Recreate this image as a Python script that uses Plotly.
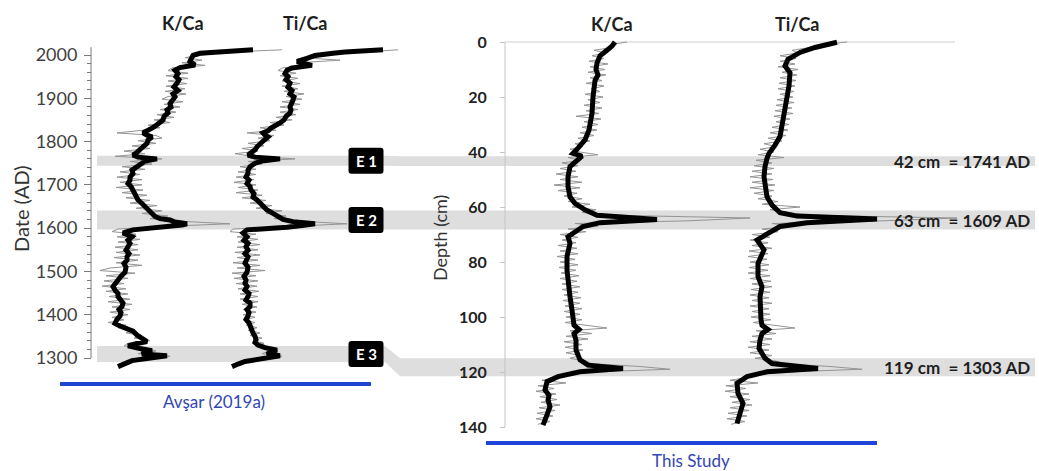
import plotly.graph_objects as go

# ---------------- Avşar (2019a): XRF ratios against calendar age ----------------
avsar_raw_years = list(range(2012, 1280, -6))
avsar_kca_raw = [
    1.92, 1.30, 1.12, 0.95, 1.12, 0.92, 1.15, 0.82, 0.78, 0.98,
    0.76, 0.98, 0.78, 0.97, 0.76, 0.95, 0.75, 0.96, 0.78, 0.72,
    0.93, 0.74, 0.90, 0.70, 0.86, 0.67, 0.84, 0.64, 0.80, 0.58,
    0.70, 0.52, 0.27, 0.66, 0.72, 0.48, 0.66, 0.42, 0.60, 0.34,
    0.55, 0.25, 0.72, 0.40, 0.62, 0.32, 0.55, 0.30, 0.50, 0.27,
    0.52, 0.30, 0.52, 0.26, 0.53, 0.32, 0.57, 0.36, 0.60, 0.40,
    0.67, 0.46, 0.72, 0.52, 0.78, 0.60, 0.90, 1.40, 0.72, 0.28,
    0.22, 0.46, 0.27, 0.50, 0.28, 0.48, 0.25, 0.48, 0.26, 0.50,
    0.24, 0.48, 0.26, 0.52, 0.20, 0.10, 0.45, 0.16, 0.38, 0.14,
    0.34, 0.12, 0.36, 0.16, 0.38, 0.19, 0.40, 0.18, 0.42, 0.22,
    0.40, 0.20, 0.38, 0.22, 0.34, 0.18, 0.36, 0.28, 0.44, 0.36,
    0.52, 0.44, 0.60, 0.38, 0.34, 0.56, 0.66, 0.48, 0.80, 0.45,
    0.36, 0.30,
]
avsar_tica_raw = [
    1.98, 1.55, 1.18, 1.02, 1.40, 0.98, 1.08, 0.82, 0.78, 0.96,
    0.80, 0.98, 0.82, 1.00, 0.82, 0.98, 0.84, 1.04, 0.86, 1.02,
    0.82, 1.00, 0.80, 0.98, 0.80, 0.96, 0.76, 0.92, 0.70, 0.84,
    0.60, 0.76, 0.47, 0.74, 0.58, 0.70, 0.48, 0.64, 0.42, 0.58,
    0.35, 0.52, 0.95, 0.48, 0.62, 0.40, 0.56, 0.38, 0.56, 0.36,
    0.54, 0.34, 0.56, 0.38, 0.58, 0.36, 0.62, 0.42, 0.66, 0.50,
    0.72, 0.56, 0.82, 0.66, 0.86, 0.74, 1.00, 1.47, 0.92, 0.33,
    0.30, 0.56, 0.37, 0.58, 0.38, 0.60, 0.37, 0.58, 0.35, 0.60,
    0.37, 0.58, 0.33, 0.60, 0.37, 0.65, 0.32, 0.56, 0.34, 0.58,
    0.36, 0.57, 0.38, 0.59, 0.40, 0.58, 0.40, 0.58, 0.42, 0.57,
    0.43, 0.56, 0.43, 0.55, 0.44, 0.55, 0.46, 0.57, 0.48, 0.60,
    0.50, 0.62, 0.53, 0.64, 0.55, 0.74, 0.70, 0.62, 0.82, 0.60,
    0.42, 0.35,
]

avsar_kca_years = [
    2012, 2010, 2007, 2004, 1999, 1992, 1985, 1977, 1971, 1965,
    1957, 1950, 1943, 1935, 1926, 1918, 1910, 1903, 1896, 1888,
    1880, 1873, 1866, 1858, 1850, 1843, 1837, 1831, 1825, 1820,
    1815, 1811, 1803, 1796, 1788, 1781, 1775, 1769, 1764, 1760,
    1755, 1750, 1742, 1734, 1726, 1718, 1711, 1703, 1696, 1688,
    1680, 1672, 1665, 1657, 1646, 1637, 1627, 1622, 1619, 1614,
    1610, 1607, 1604, 1600, 1596, 1589, 1580, 1572, 1565, 1557,
    1549, 1541, 1534, 1526, 1518, 1510, 1498, 1489, 1480, 1472,
    1465, 1457, 1449, 1442, 1434, 1427, 1419, 1412, 1405, 1397,
    1389, 1380, 1374, 1369, 1362, 1353, 1346, 1338, 1333, 1328,
    1322, 1317, 1313, 1309, 1305, 1301, 1298, 1294, 1287, 1280,
]
avsar_kca_smooth = [
    1.63, 1.45, 1.25, 1.10, 1.03, 1.02, 1.00, 1.05, 0.90, 0.85,
    0.88, 0.86, 0.89, 0.87, 0.84, 0.88, 0.83, 0.85, 0.82, 0.80,
    0.81, 0.77, 0.78, 0.74, 0.73, 0.70, 0.66, 0.62, 0.58, 0.53,
    0.57, 0.62, 0.58, 0.57, 0.53, 0.50, 0.47, 0.43, 0.48, 0.67,
    0.55, 0.52, 0.46, 0.42, 0.43, 0.40, 0.40, 0.38, 0.41, 0.43,
    0.44, 0.46, 0.48, 0.52, 0.57, 0.60, 0.65, 0.70, 0.80, 0.85,
    0.97, 0.92, 0.77, 0.60, 0.43, 0.33, 0.42, 0.38, 0.40, 0.38,
    0.36, 0.39, 0.37, 0.37, 0.34, 0.36, 0.35, 0.31, 0.28, 0.26,
    0.23, 0.25, 0.28, 0.28, 0.30, 0.33, 0.32, 0.29, 0.31, 0.30,
    0.27, 0.25, 0.30, 0.37, 0.43, 0.47, 0.52, 0.57, 0.46, 0.38,
    0.50, 0.62, 0.55, 0.52, 0.77, 0.60, 0.53, 0.42, 0.35, 0.28,
]

avsar_tica_years = [
    2012, 2010, 2007, 2004, 1999, 1992, 1985, 1980, 1976, 1970,
    1965, 1957, 1950, 1943, 1935, 1926, 1918, 1910, 1903, 1896,
    1888, 1880, 1873, 1866, 1858, 1850, 1843, 1837, 1831, 1825,
    1820, 1815, 1811, 1803, 1796, 1788, 1781, 1775, 1769, 1764,
    1760, 1755, 1750, 1742, 1734, 1727, 1718, 1711, 1703, 1696,
    1688, 1680, 1672, 1665, 1657, 1650, 1642, 1634, 1627, 1620,
    1615, 1610, 1606, 1602, 1596, 1589, 1580, 1572, 1565, 1557,
    1549, 1541, 1534, 1526, 1519, 1510, 1498, 1489, 1480, 1473,
    1465, 1457, 1449, 1442, 1434, 1427, 1419, 1412, 1405, 1397,
    1389, 1381, 1373, 1366, 1358, 1350, 1342, 1336, 1330, 1324,
    1318, 1313, 1309, 1305, 1301, 1298, 1292, 1286, 1280,
]
avsar_tica_smooth = [
    1.83, 1.60, 1.45, 1.33, 1.15, 1.07, 0.97, 1.05, 1.12, 0.92,
    0.87, 0.85, 0.88, 0.86, 0.90, 0.88, 0.92, 0.90, 0.94, 0.93,
    0.92, 0.90, 0.91, 0.90, 0.86, 0.84, 0.80, 0.75, 0.71, 0.68,
    0.63, 0.65, 0.68, 0.64, 0.60, 0.57, 0.55, 0.52, 0.48, 0.55,
    0.80, 0.62, 0.55, 0.50, 0.48, 0.48, 0.46, 0.49, 0.47, 0.50,
    0.51, 0.54, 0.53, 0.57, 0.60, 0.63, 0.67, 0.73, 0.78, 0.83,
    0.93, 1.15, 1.02, 0.87, 0.47, 0.43, 0.47, 0.44, 0.48, 0.46,
    0.48, 0.45, 0.48, 0.46, 0.45, 0.48, 0.47, 0.44, 0.46, 0.45,
    0.47, 0.45, 0.49, 0.48, 0.46, 0.50, 0.50, 0.47, 0.49, 0.48,
    0.46, 0.49, 0.50, 0.52, 0.53, 0.55, 0.56, 0.55, 0.58, 0.65,
    0.77, 0.70, 0.67, 0.80, 0.70, 0.63, 0.45, 0.38, 0.32,
]

# ---------------- This study: XRF ratios against core depth ----------------
study_raw_depth = list(range(0, 140))
study_kca_raw = [
    1.07, 0.90, 0.92, 0.74, 0.86, 0.72, 0.84, 0.69, 0.88, 0.70,
    0.85, 0.68, 0.86, 0.70, 0.82, 0.66, 0.84, 0.71, 0.80, 0.65,
    0.83, 0.68, 0.80, 0.64, 0.82, 0.66, 0.79, 0.56, 0.81, 0.64,
    0.78, 0.62, 0.77, 0.60, 0.74, 0.58, 0.70, 0.55, 0.63, 0.50,
    0.60, 0.78, 0.48, 0.60, 0.42, 0.58, 0.40, 0.56, 0.36, 0.58,
    0.40, 0.62, 0.34, 0.60, 0.38, 0.57, 0.44, 0.62, 0.48, 0.70,
    0.52, 0.76, 0.62, 0.95, 2.30, 1.70, 0.55, 0.78, 0.48, 0.66,
    0.40, 0.58, 0.42, 0.56, 0.38, 0.57, 0.40, 0.58, 0.37, 0.55,
    0.40, 0.58, 0.39, 0.56, 0.41, 0.59, 0.40, 0.57, 0.42, 0.60,
    0.42, 0.58, 0.44, 0.61, 0.43, 0.60, 0.45, 0.62, 0.44, 0.60,
    0.46, 0.62, 0.45, 0.66, 0.87, 0.50, 0.72, 0.46, 0.68, 0.44,
    0.62, 0.45, 0.63, 0.46, 0.60, 0.50, 0.66, 0.72, 1.20, 1.50,
    0.70, 0.45, 0.42, 0.22, 0.46, 0.18, 0.34, 0.16, 0.36, 0.20,
    0.37, 0.21, 0.40, 0.19, 0.35, 0.17, 0.33, 0.16, 0.30, 0.18,
]
study_tica_raw = [
    1.47, 1.22, 1.10, 0.92, 0.98, 0.80, 0.96, 0.80, 0.95, 0.78,
    0.98, 0.82, 0.97, 0.80, 0.96, 0.79, 0.95, 0.78, 0.94, 0.80,
    0.93, 0.77, 0.94, 0.76, 0.92, 0.75, 0.93, 0.74, 0.90, 0.76,
    0.89, 0.72, 0.88, 0.70, 0.86, 0.68, 0.82, 0.64, 0.76, 0.60,
    0.74, 0.58, 0.84, 0.56, 0.72, 0.54, 0.74, 0.52, 0.72, 0.50,
    0.73, 0.52, 0.75, 0.50, 0.74, 0.54, 0.72, 0.58, 0.78, 0.62,
    1.00, 0.70, 0.90, 1.05, 2.57, 1.85, 0.72, 0.92, 0.62, 0.78,
    0.52, 0.70, 0.50, 0.68, 0.52, 0.72, 0.49, 0.68, 0.48, 0.67,
    0.50, 0.69, 0.49, 0.68, 0.48, 0.70, 0.50, 0.71, 0.52, 0.72,
    0.51, 0.70, 0.50, 0.69, 0.52, 0.72, 0.50, 0.69, 0.52, 0.70,
    0.51, 0.71, 0.53, 0.74, 0.95, 0.56, 0.76, 0.52, 0.72, 0.50,
    0.70, 0.48, 0.69, 0.50, 0.72, 0.55, 0.76, 0.84, 1.30, 1.62,
    0.85, 0.55, 0.48, 0.30, 0.58, 0.26, 0.46, 0.25, 0.49, 0.30,
    0.50, 0.32, 0.52, 0.30, 0.49, 0.28, 0.47, 0.27, 0.45, 0.31,
]

study_kca_depth = [
    0, 1.5, 3, 5, 7.7, 10, 12, 14, 20, 26,
    32, 35.6, 38.6, 40.5, 41.5, 43.5, 45.3, 49, 52.6, 56.3,
    58.7, 61, 63, 64.5, 65.7, 67.1, 68.4, 70.8, 73.2, 78,
    83, 87.7, 92.6, 97.5, 101, 103, 104.5, 106, 108.4, 112,
    115.6, 117.5, 118.7, 119.9, 121.7, 123.5, 126.5, 128.5, 130.2, 132.6,
    135.6, 139.3,
]
study_kca_smooth = [
    0.95, 0.92, 0.87, 0.80, 0.77, 0.76, 0.78, 0.75, 0.73, 0.72,
    0.69, 0.65, 0.58, 0.53, 0.62, 0.55, 0.50, 0.48, 0.48, 0.50,
    0.55, 0.65, 0.77, 1.37, 0.80, 0.63, 0.57, 0.48, 0.50, 0.47,
    0.47, 0.48, 0.50, 0.52, 0.53, 0.54, 0.59, 0.54, 0.56, 0.56,
    0.60, 0.68, 1.03, 0.60, 0.38, 0.27, 0.25, 0.29, 0.28, 0.30,
    0.27, 0.23,
]
study_tica_depth = [
    0.1, 2, 3.8, 6.3, 8.7, 11.2, 16, 19.9, 24.7, 29.6,
    34.4, 37.5, 40.5, 42.3, 45.3, 49, 52.6, 56.3, 59.3, 62.1,
    63.3, 64.4, 65.7, 67.1, 69.6, 72, 75.6, 80.5, 85.3, 89,
    92.6, 97.5, 101, 103, 104.5, 106, 108.4, 111.4, 115, 116.9,
    118.7, 119.9, 121.7, 124.1, 127.8, 131.4, 134.4, 138.7,
]
study_tica_smooth = [
    1.37, 1.15, 1.00, 0.88, 0.85, 0.90, 0.89, 0.87, 0.85, 0.83,
    0.80, 0.75, 0.69, 0.67, 0.65, 0.64, 0.65, 0.67, 0.72, 0.80,
    0.97, 1.77, 1.07, 0.80, 0.68, 0.57, 0.64, 0.58, 0.58, 0.62,
    0.60, 0.60, 0.61, 0.62, 0.68, 0.62, 0.60, 0.59, 0.65, 0.72,
    1.18, 0.67, 0.47, 0.37, 0.38, 0.43, 0.40, 0.37,
]

# ---------------- Event correlation ----------------
event_names = ["E 1", "E 2", "E 3"]
event_depth_cm = [42, 63, 119]
event_year_ad = [1741, 1609, 1303]
event_band_years = [(1744, 1767), (1597, 1641), (1291, 1328)]
event_band_depths = [(41.5, 45.1), (61.3, 68.2), (115.0, 121.5)]

date_ticks = list(range(1300, 2001, 100))
date_minor_ticks = list(range(1300, 2001, 20))
depth_ticks = list(range(0, 141, 20))

# ---------------- page geometry (pixels) ----------------
W, H = 1039, 471
DATE_PX_2000, PX_PER_YEAR = 55.0, 303.0 / 700.0
DEPTH_PX_0, PX_PER_CM = 42.0, 2.75


def date_px(d):
    return DATE_PX_2000 + (2000 - d) * PX_PER_YEAR


def depth_px(z):
    return DEPTH_PX_0 + z * PX_PER_CM


def fx(p):
    return p / W


def fy(p):
    return 1 - p / H


def date_at(p):
    return 2000 - (p - DATE_PX_2000) / PX_PER_YEAR


def depth_at(p):
    return (p - DEPTH_PX_0) / PX_PER_CM


FONT = "Lato"
THIN = "#949494"
THICK = "#000000"
BLUE = "#1f45d8"
BAND = "#dedede"

LEFT_DOM = (85, 448)
RIGHT_DOM = (497, 1037)
# pixel offset of each ratio column (ratio 0 position), 100 px per ratio unit
COL_BASE = {"lk": 90, "lt": 200, "rk": 520, "rt": 700}


def xrange(dom, base):
    return [(dom[0] - base) / 100.0, (dom[1] - base) / 100.0]


fig = go.Figure()


def add_pair(xr, yr, xs, ys, xa, ya):
    fig.add_trace(go.Scatter(x=xr, y=yr, xaxis=xa, yaxis=ya, mode="lines",
                             line=dict(color=THIN, width=1), hoverinfo="skip"))
    fig.add_trace(go.Scatter(x=xs, y=ys, xaxis=xa, yaxis=ya, mode="lines",
                             line=dict(color=THICK, width=5), hoverinfo="skip"))


add_pair(avsar_kca_raw, avsar_raw_years, avsar_kca_smooth, avsar_kca_years, "x", "y")
add_pair(avsar_tica_raw, avsar_raw_years, avsar_tica_smooth, avsar_tica_years, "x2", "y")
add_pair(study_kca_raw, study_raw_depth, study_kca_smooth, study_kca_depth, "x3", "y2")
add_pair(study_tica_raw, study_raw_depth, study_tica_smooth, study_tica_depth, "x4", "y2")

hidden = dict(visible=False, showgrid=False, zeroline=False, fixedrange=True)
fig.update_layout(
    xaxis=dict(domain=[fx(LEFT_DOM[0]), fx(LEFT_DOM[1])],
               range=xrange(LEFT_DOM, COL_BASE["lk"]), anchor="y", **hidden),
    xaxis2=dict(range=xrange(LEFT_DOM, COL_BASE["lt"]), overlaying="x", anchor="y", **hidden),
    xaxis3=dict(domain=[fx(RIGHT_DOM[0]), fx(RIGHT_DOM[1])],
                range=xrange(RIGHT_DOM, COL_BASE["rk"]), anchor="y2", **hidden),
    xaxis4=dict(range=xrange(RIGHT_DOM, COL_BASE["rt"]), overlaying="x3", anchor="y2", **hidden),
    yaxis=dict(domain=[0, 1], range=[date_at(H), date_at(0)], anchor="free", position=fx(91),
               showgrid=False, zeroline=False, showline=False,
               tickmode="array", tickvals=date_ticks, ticks="outside", ticklen=7,
               tickwidth=1, tickcolor="#7a7a7a", ticklabelstandoff=3,
               tickfont=dict(family=FONT, size=18, color="#404040"),
               minor=dict(tickvals=date_minor_ticks, ticks="outside", ticklen=4,
                          tickwidth=1, tickcolor="#7a7a7a")),
    yaxis2=dict(domain=[0, 1], range=[depth_at(H), depth_at(0)], anchor="free", position=fx(505),
                showgrid=False, zeroline=False, showline=False,
                tickmode="array", tickvals=depth_ticks, ticks="outside", ticklen=5,
                tickwidth=1, tickcolor="#c4c4c4", ticklabelstandoff=10,
                tickfont=dict(family=FONT, size=16, color="#222222", weight="bold")),
    width=W, height=H, margin=dict(l=0, r=0, t=0, b=0, pad=0),
    paper_bgcolor="white", plot_bgcolor="rgba(0,0,0,0)", showlegend=False,
)

shapes = []
annotations = []

# event bands: left part on the age scale, right part on the depth scale
for (ya0, ya1), (z0, z1) in zip(event_band_years, event_band_depths):
    tl, bl = date_px(ya1), date_px(ya0)
    tr, br = depth_px(z0), depth_px(z1)
    pts = [(97, tl), (385, tl), (400, tr), (1035, tr), (1035, br), (400, br), (385, bl), (97, bl)]
    path = "M " + " L ".join(f"{fx(x):.5f},{fy(y):.5f}" for x, y in pts) + " Z"
    shapes.append(dict(type="path", path=path, xref="paper", yref="paper",
                       fillcolor=BAND, line=dict(width=0), layer="below"))

# axis lines
shapes.append(dict(type="line", xref="paper", yref="y", x0=fx(91), x1=fx(91), y0=1300, y1=2018,
                   line=dict(color="#7a7a7a", width=1)))
shapes.append(dict(type="line", xref="paper", yref="y2", x0=fx(505), x1=fx(505), y0=0, y1=140,
                   line=dict(color="#c4c4c4", width=1), layer="below"))
shapes.append(dict(type="line", xref="paper", yref="y2", x0=fx(505), x1=fx(955), y0=0, y1=0,
                   line=dict(color="#cfcfcf", width=1), layer="below"))


def rounded_box(cx, cy, w, h, r):
    x0, x1, y0, y1 = cx - w / 2, cx + w / 2, cy - h / 2, cy + h / 2

    def p(x, y):
        return f"{fx(x):.5f},{fy(y):.5f}"
    return (f"M {p(x0 + r, y0)} L {p(x1 - r, y0)} Q {p(x1, y0)} {p(x1, y0 + r)} "
            f"L {p(x1, y1 - r)} Q {p(x1, y1)} {p(x1 - r, y1)} L {p(x0 + r, y1)} "
            f"Q {p(x0, y1)} {p(x0, y1 - r)} L {p(x0, y0 + r)} Q {p(x0, y0)} {p(x0 + r, y0)} Z")


for name, (ya0, ya1) in zip(event_names, event_band_years):
    cy = (date_px(ya0) + date_px(ya1)) / 2
    shapes.append(dict(type="path", path=rounded_box(366, cy, 35, 26, 3), xref="paper",
                       yref="paper", fillcolor="black", line=dict(width=0), layer="above"))
    annotations.append(dict(text=name, x=fx(366), y=fy(cy), xref="paper", yref="paper",
                            showarrow=False, xanchor="center", yanchor="middle",
                            font=dict(family=FONT, size=15, color="white", weight="bold")))

for d, yr, (z0, z1) in zip(event_depth_cm, event_year_ad, event_band_depths):
    cy = (depth_px(z0) + depth_px(z1)) / 2
    annotations.append(dict(text=f"{d} cm\u00a0 = {yr} AD", x=fx(1032), y=fy(cy),
                            xref="paper", yref="paper", showarrow=False,
                            xanchor="right", yanchor="middle",
                            font=dict(family=FONT, size=17, color="#1e1e1e", weight="bold")))

# column headers
for text, cx, cy in [("K/Ca", 183, 23), ("Ti/Ca", 305, 23), ("K/Ca", 612, 24), ("Ti/Ca", 797, 24)]:
    annotations.append(dict(text=text, x=fx(cx), y=fy(cy), xref="paper", yref="paper",
                            showarrow=False, xanchor="center", yanchor="middle",
                            font=dict(family=FONT, size=18, color="#1e1e1e", weight="bold")))

# axis titles
annotations.append(dict(text="Date (AD)", x=fx(21), y=fy(209), xref="paper", yref="paper",
                        showarrow=False, textangle=-90, xanchor="center", yanchor="middle",
                        font=dict(family=FONT, size=20, color="#333333")))
annotations.append(dict(text="Depth (cm)", x=fx(440), y=fy(238), xref="paper", yref="paper",
                        showarrow=False, textangle=-90, xanchor="center", yanchor="middle",
                        font=dict(family=FONT, size=18, color="#333333")))

# source bars
shapes.append(dict(type="line", xref="paper", yref="paper", x0=fx(60), x1=fx(371),
                   y0=fy(384), y1=fy(384), line=dict(color=BLUE, width=4)))
shapes.append(dict(type="line", xref="paper", yref="paper", x0=fx(486), x1=fx(877),
                   y0=fy(443), y1=fy(443), line=dict(color=BLUE, width=4)))
annotations.append(dict(text="Avşar (2019a)", x=fx(214), y=fy(401), xref="paper", yref="paper",
                        showarrow=False, xanchor="center", yanchor="middle",
                        font=dict(family=FONT, size=17, color="#3246b4")))
annotations.append(dict(text="This Study", x=fx(691), y=fy(460), xref="paper", yref="paper",
                        showarrow=False, xanchor="center", yanchor="middle",
                        font=dict(family=FONT, size=17, color="#3246b4")))

fig.update_layout(shapes=shapes, annotations=annotations)
fig.write_html("out.html")
